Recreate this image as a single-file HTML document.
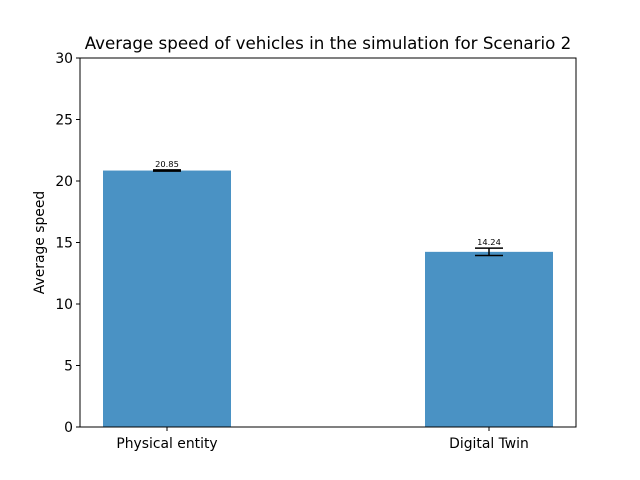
<!DOCTYPE html>
<html><head><meta charset="utf-8"><style>body{margin:0;background:#fff}svg{display:block;font-family:"DejaVu Sans","Liberation Sans",sans-serif}</style></head>
<body>
<svg id="chart" width="640" height="480"></svg>
<script>
const categories = ["Physical entity", "Digital Twin"];
const values = [20.85, 14.24];
const errors = [0.05, 0.3];
const valueLabels = ["20.85", "14.24"];
const yTicks = [0, 5, 10, 15, 20, 25, 30];
const NS = "http://www.w3.org/2000/svg";
const svg = document.getElementById("chart");
const L = 80, R = 576, T = 58, B = 427, yMax = 30;
const y = v => B - v / yMax * (B - T);
const xc = i => [167, 489][i];
const bw = 128;
function mk(tag, attrs, parent) { const e = document.createElementNS(NS, tag); for (const k in attrs) e.setAttribute(k, attrs[k]); (parent || svg).appendChild(e); return e; }
const title = mk("text", {x: 328, y: 49, "text-anchor": "middle", "font-size": 16.7});
title.textContent = "Average speed of vehicles in the simulation for Scenario 2";


values.forEach((v, i) => {
  const r = mk("rect", {x: xc(i) - bw / 2, y: y(v), width: bw, height: B - y(v), fill: "#4a92c4"});
  
  
  const e = errors[i];
  const g = mk("g", {stroke: "#000", "stroke-width": 1.5});
  
  
  mk("line", {x1: xc(i), x2: xc(i), y1: y(v + e), y2: y(v - e)}, g);
  mk("line", {x1: xc(i) - 14, x2: xc(i) + 14, y1: y(v + e), y2: y(v + e)}, g);
  mk("line", {x1: xc(i) - 14, x2: xc(i) + 14, y1: y(v - e), y2: y(v - e)}, g);
  const t = mk("text", {x: xc(i), y: y(v + e) - 3, "text-anchor": "middle", "font-size": 8.3});
  t.textContent = valueLabels[i];
  
  
  mk("line", {x1: xc(i), x2: xc(i), y1: B, y2: B + 4, stroke: "#000"});
  const c = mk("text", {x: xc(i), y: B + 21, "text-anchor": "middle", "font-size": 13.9});
  c.textContent = categories[i];
  
  
});
yTicks.forEach(v => {
  mk("line", {x1: L - 4, x2: L, y1: y(v), y2: y(v), stroke: "#000"});
  const t = mk("text", {x: L - 7, y: y(v) + 5, "text-anchor": "end", "font-size": 13.9});
  t.textContent = v;
  
  
});
const frame = mk("rect", {x: L, y: T, width: R - L, height: B - T, fill: "none", stroke: "#000", "stroke-width": 1});


const yl = mk("text", {x: 44, y: (T + B) / 2, "text-anchor": "middle", "font-size": 13.9, transform: `rotate(-90 44 ${(T + B) / 2})`});
yl.textContent = "Average speed";


</script>
</body></html>
